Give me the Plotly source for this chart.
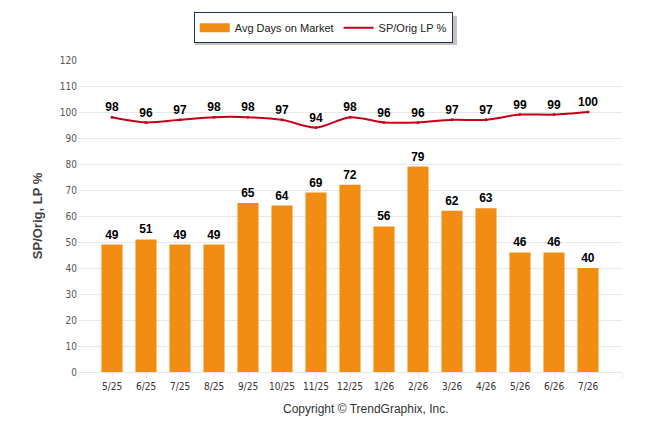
import plotly.graph_objects as go

months = ["5/25", "6/25", "7/25", "8/25", "9/25", "10/25", "11/25", "12/25",
          "1/26", "2/26", "3/26", "4/26", "5/26", "6/26", "7/26"]
avg_days = [49, 51, 49, 49, 65, 64, 69, 72, 56, 79, 62, 63, 46, 46, 40]
sp_orig = [98, 96, 97, 98, 98, 97, 94, 98, 96, 96, 97, 97, 99, 99, 100]
y_ticks = list(range(0, 121, 10))

BAR_C = "#F18D13"
LINE_C = "#C40018"
idx = list(range(len(months)))
lbl_font = dict(family="Liberation Sans, Arial", size=12, color="#000000")

fig = go.Figure()
fig.add_trace(go.Bar(
    x=idx, y=avg_days, name="Avg Days on Market", showlegend=False,
    marker=dict(color=BAR_C, line=dict(width=0)),
    width=0.62,
    text=[str(v) for v in avg_days], textposition="outside",
    textfont=lbl_font, texttemplate="<b>%{text}</b>", cliponaxis=False,
))
fig.add_trace(go.Scatter(
    x=idx, y=sp_orig, name="SP/Orig LP %", showlegend=False,
    mode="lines+markers+text",
    line=dict(color=LINE_C, width=2, shape="spline", smoothing=0.8),
    marker=dict(size=3, color=LINE_C),
    text=[str(v) for v in sp_orig], textposition="top center",
    texttemplate="<b>%{text}</b>", textfont=lbl_font, cliponaxis=False,
))
# legend-only entries
fig.add_trace(go.Scatter(
    x=[None], y=[None], name="Avg Days on Market", mode="lines",
    line=dict(color=BAR_C, width=9),
))
fig.add_trace(go.Scatter(
    x=[None], y=[None], name="SP/Orig LP %", mode="lines",
    line=dict(color=LINE_C, width=2),
))

fig.update_layout(
    width=646, height=434,
    margin=dict(l=70, r=32, t=52, b=70),
    paper_bgcolor="white", plot_bgcolor="white",
    font=dict(family="Liberation Sans, Arial", color="#444444"),
    showlegend=True,
    legend=dict(
        orientation="h", xref="container", yref="container",
        x=0.488, xanchor="center", y=0.99, yanchor="top",
        bordercolor="#1F3353", borderwidth=1, bgcolor="white",
        font=dict(family="Liberation Sans, Arial", size=11, color="#222222"),
        traceorder="normal",
    ),
    shapes=[dict(
        type="rect", xref="paper", yref="paper",
        xsizemode="pixel", ysizemode="pixel", xanchor=0, yanchor=1,
        x0=117, x1=379, y0=15, y1=44,
        fillcolor="#9A9A9A", opacity=0.6, line=dict(width=0), layer="above",
    )],
    annotations=[dict(
        text="Copyright © TrendGraphix, Inc.", xref="paper", yref="paper",
        x=0.529, y=0, yshift=-37, xanchor="center", yanchor="middle",
        showarrow=False,
        font=dict(family="Liberation Sans, Arial", size=12, color="#333333"),
    )],
)
fig.update_xaxes(
    range=[-1, len(months)],
    tickvals=list(range(-1, len(months) + 1)),
    ticktext=[""] + months + [""],
    showgrid=False, showline=True, linecolor="#E6E6E6", linewidth=1,
    ticks="outside", ticklen=5, tickcolor="#E6E6E6",
    tickfont=dict(family="DejaVu Sans Condensed, DejaVu Sans", size=10, color="#333333"),
    zeroline=False,
)
fig.update_yaxes(
    range=[0, 120], tickvals=y_ticks,
    showgrid=True, gridcolor="#E8E8E8", gridwidth=1,
    zeroline=False, showline=False,
    tickfont=dict(family="DejaVu Sans Condensed, DejaVu Sans", size=10, color="#555555"),
    title=dict(text="<b>SP/Orig, LP %</b>", standoff=14,
               font=dict(family="Liberation Sans, Arial", size=13, color="#444444")),
)

fig.write_html("out.html")
